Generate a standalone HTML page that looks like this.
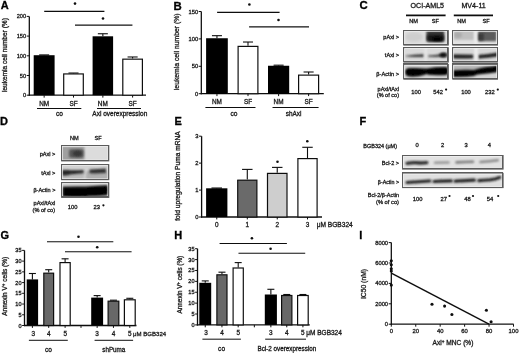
<!DOCTYPE html>
<html><head><meta charset="utf-8"><style>
html,body{margin:0;padding:0;background:#fff;}
body{width:520px;height:353px;overflow:hidden;}
svg{display:block;font-family:"Liberation Sans", sans-serif;}
</style></head><body>
<svg width="520" height="353" viewBox="0 0 520 353">
<defs><filter id="b0_8" filterUnits="userSpaceOnUse" x="0" y="0" width="520" height="353"><feGaussianBlur stdDeviation="0.6"/></filter><filter id="b1" filterUnits="userSpaceOnUse" x="0" y="0" width="520" height="353"><feGaussianBlur stdDeviation="0.8"/></filter><filter id="b1_2" filterUnits="userSpaceOnUse" x="0" y="0" width="520" height="353"><feGaussianBlur stdDeviation="1.0"/></filter><filter id="b1_5" filterUnits="userSpaceOnUse" x="0" y="0" width="520" height="353"><feGaussianBlur stdDeviation="1.3"/></filter><filter id="b2" filterUnits="userSpaceOnUse" x="0" y="0" width="520" height="353"><feGaussianBlur stdDeviation="1.8"/></filter><filter id="soft" x="0" y="0" width="100%" height="100%"><feGaussianBlur stdDeviation="0.3"/></filter></defs>
<rect width="520" height="353" fill="#fff"/>
<g filter="url(#soft)">
<text x="0.70" y="8.90" font-size="11" text-anchor="start" font-weight="bold" fill="#000" stroke="#000" stroke-width="0.3">A</text>
<line x1="29.30" y1="16.40" x2="29.30" y2="95.80" stroke="#111" stroke-width="1.3"/>
<line x1="26.70" y1="95.20" x2="29.30" y2="95.20" stroke="#111" stroke-width="1.0"/>
<text x="26.10" y="97.20" font-size="5.6" text-anchor="end" fill="#1a1a1a" stroke="#1a1a1a" stroke-width="0.3">0</text>
<line x1="26.70" y1="75.50" x2="29.30" y2="75.50" stroke="#111" stroke-width="1.0"/>
<text x="26.10" y="77.50" font-size="5.6" text-anchor="end" fill="#1a1a1a" stroke="#1a1a1a" stroke-width="0.3">50</text>
<line x1="26.70" y1="55.80" x2="29.30" y2="55.80" stroke="#111" stroke-width="1.0"/>
<text x="26.10" y="57.80" font-size="5.6" text-anchor="end" fill="#1a1a1a" stroke="#1a1a1a" stroke-width="0.3">100</text>
<line x1="26.70" y1="36.10" x2="29.30" y2="36.10" stroke="#111" stroke-width="1.0"/>
<text x="26.10" y="38.10" font-size="5.6" text-anchor="end" fill="#1a1a1a" stroke="#1a1a1a" stroke-width="0.3">150</text>
<line x1="26.70" y1="16.40" x2="29.30" y2="16.40" stroke="#111" stroke-width="1.0"/>
<text x="26.10" y="18.40" font-size="5.6" text-anchor="end" fill="#1a1a1a" stroke="#1a1a1a" stroke-width="0.3">200</text>
<line x1="28.70" y1="95.20" x2="146.00" y2="95.20" stroke="#111" stroke-width="1.3"/>
<line x1="44.15" y1="55.21" x2="44.15" y2="54.89" stroke="#111" stroke-width="1.1"/>
<line x1="39.15" y1="54.89" x2="49.15" y2="54.89" stroke="#111" stroke-width="1.1"/>
<rect x="33.70" y="55.21" width="20.90" height="39.99" fill="#000"/>
<line x1="44.15" y1="95.20" x2="44.15" y2="97.60" stroke="#111" stroke-width="1.0"/>
<line x1="73.50" y1="73.33" x2="73.50" y2="73.02" stroke="#111" stroke-width="1.1"/>
<line x1="68.50" y1="73.02" x2="78.50" y2="73.02" stroke="#111" stroke-width="1.1"/>
<rect x="63.70" y="73.93" width="19.60" height="21.27" fill="white" stroke="#111" stroke-width="1.2"/>
<line x1="73.50" y1="95.20" x2="73.50" y2="97.60" stroke="#111" stroke-width="1.0"/>
<line x1="102.85" y1="36.30" x2="102.85" y2="33.74" stroke="#111" stroke-width="1.1"/>
<line x1="97.85" y1="33.74" x2="107.85" y2="33.74" stroke="#111" stroke-width="1.1"/>
<rect x="92.60" y="36.30" width="20.50" height="58.90" fill="#000"/>
<line x1="102.85" y1="95.20" x2="102.85" y2="97.60" stroke="#111" stroke-width="1.0"/>
<line x1="132.60" y1="58.56" x2="132.60" y2="56.98" stroke="#111" stroke-width="1.1"/>
<line x1="127.60" y1="56.98" x2="137.60" y2="56.98" stroke="#111" stroke-width="1.1"/>
<rect x="122.80" y="59.16" width="19.60" height="36.04" fill="white" stroke="#111" stroke-width="1.2"/>
<line x1="132.60" y1="95.20" x2="132.60" y2="97.60" stroke="#111" stroke-width="1.0"/>
<text x="44.15" y="105.70" font-size="6.4" text-anchor="middle" fill="#1a1a1a" stroke="#1a1a1a" stroke-width="0.3">NM</text>
<text x="73.50" y="105.70" font-size="6.4" text-anchor="middle" fill="#1a1a1a" stroke="#1a1a1a" stroke-width="0.3">SF</text>
<text x="102.85" y="105.70" font-size="6.4" text-anchor="middle" fill="#1a1a1a" stroke="#1a1a1a" stroke-width="0.3">NM</text>
<text x="132.60" y="105.70" font-size="6.4" text-anchor="middle" fill="#1a1a1a" stroke="#1a1a1a" stroke-width="0.3">SF</text>
<line x1="44.20" y1="11.30" x2="104.40" y2="11.30" stroke="#111" stroke-width="1.2"/>
<circle cx="75.00" cy="3.60" r="1.3" fill="#111"/>
<line x1="75.00" y1="25.10" x2="132.40" y2="25.10" stroke="#111" stroke-width="1.2"/>
<circle cx="103.00" cy="18.50" r="1.3" fill="#111"/>
<line x1="37.00" y1="108.50" x2="81.30" y2="108.50" stroke="#111" stroke-width="1.0"/>
<line x1="97.00" y1="108.50" x2="141.00" y2="108.50" stroke="#111" stroke-width="1.0"/>
<text x="59.50" y="116.10" font-size="6.6" text-anchor="middle" fill="#1a1a1a" stroke="#1a1a1a" stroke-width="0.3">co</text>
<text x="119.80" y="116.40" font-size="6.5" text-anchor="middle" fill="#1a1a1a" stroke="#1a1a1a" stroke-width="0.3">Axl overexpression</text>
<text x="7.30" y="55.10" font-size="6.55" text-anchor="middle" transform="rotate(-90 7.30 55.10)" fill="#1a1a1a" stroke="#1a1a1a" stroke-width="0.3">leukemia cell number (%)</text>
<text x="173.60" y="9.60" font-size="11.4" text-anchor="start" font-weight="bold" fill="#000" stroke="#000" stroke-width="0.3">B</text>
<line x1="201.30" y1="11.50" x2="201.30" y2="94.30" stroke="#111" stroke-width="1.3"/>
<line x1="198.70" y1="93.70" x2="201.30" y2="93.70" stroke="#111" stroke-width="1.0"/>
<text x="198.10" y="95.70" font-size="5.75" text-anchor="end" fill="#1a1a1a" stroke="#1a1a1a" stroke-width="0.3">0</text>
<line x1="198.70" y1="66.30" x2="201.30" y2="66.30" stroke="#111" stroke-width="1.0"/>
<text x="198.10" y="68.30" font-size="5.75" text-anchor="end" fill="#1a1a1a" stroke="#1a1a1a" stroke-width="0.3">50</text>
<line x1="198.70" y1="38.90" x2="201.30" y2="38.90" stroke="#111" stroke-width="1.0"/>
<text x="198.10" y="40.90" font-size="5.75" text-anchor="end" fill="#1a1a1a" stroke="#1a1a1a" stroke-width="0.3">100</text>
<line x1="198.70" y1="11.50" x2="201.30" y2="11.50" stroke="#111" stroke-width="1.0"/>
<text x="198.10" y="13.50" font-size="5.75" text-anchor="end" fill="#1a1a1a" stroke="#1a1a1a" stroke-width="0.3">150</text>
<line x1="200.70" y1="93.70" x2="323.80" y2="93.70" stroke="#111" stroke-width="1.3"/>
<line x1="216.95" y1="38.24" x2="216.95" y2="35.67" stroke="#111" stroke-width="1.1"/>
<line x1="211.95" y1="35.67" x2="221.95" y2="35.67" stroke="#111" stroke-width="1.1"/>
<rect x="206.10" y="38.24" width="21.70" height="55.46" fill="#000"/>
<line x1="216.95" y1="93.70" x2="216.95" y2="96.10" stroke="#111" stroke-width="1.0"/>
<line x1="248.00" y1="45.80" x2="248.00" y2="42.02" stroke="#111" stroke-width="1.1"/>
<line x1="243.00" y1="42.02" x2="253.00" y2="42.02" stroke="#111" stroke-width="1.1"/>
<rect x="238.10" y="46.40" width="19.80" height="47.30" fill="white" stroke="#111" stroke-width="1.2"/>
<line x1="248.00" y1="93.70" x2="248.00" y2="96.10" stroke="#111" stroke-width="1.0"/>
<line x1="278.60" y1="65.75" x2="278.60" y2="65.20" stroke="#111" stroke-width="1.1"/>
<line x1="273.60" y1="65.20" x2="283.60" y2="65.20" stroke="#111" stroke-width="1.1"/>
<rect x="268.00" y="65.75" width="21.20" height="27.95" fill="#000"/>
<line x1="278.60" y1="93.70" x2="278.60" y2="96.10" stroke="#111" stroke-width="1.0"/>
<line x1="308.60" y1="74.52" x2="308.60" y2="72.00" stroke="#111" stroke-width="1.1"/>
<line x1="303.60" y1="72.00" x2="313.60" y2="72.00" stroke="#111" stroke-width="1.1"/>
<rect x="298.60" y="75.12" width="20.00" height="18.58" fill="white" stroke="#111" stroke-width="1.2"/>
<line x1="308.60" y1="93.70" x2="308.60" y2="96.10" stroke="#111" stroke-width="1.0"/>
<text x="216.95" y="104.40" font-size="6.4" text-anchor="middle" fill="#1a1a1a" stroke="#1a1a1a" stroke-width="0.3">NM</text>
<text x="248.00" y="104.40" font-size="6.4" text-anchor="middle" fill="#1a1a1a" stroke="#1a1a1a" stroke-width="0.3">SF</text>
<text x="278.60" y="104.40" font-size="6.4" text-anchor="middle" fill="#1a1a1a" stroke="#1a1a1a" stroke-width="0.3">NM</text>
<text x="308.60" y="104.40" font-size="6.4" text-anchor="middle" fill="#1a1a1a" stroke="#1a1a1a" stroke-width="0.3">SF</text>
<line x1="217.10" y1="12.35" x2="279.60" y2="12.35" stroke="#111" stroke-width="1.2"/>
<circle cx="249.40" cy="4.50" r="1.3" fill="#111"/>
<line x1="249.10" y1="26.85" x2="309.00" y2="26.85" stroke="#111" stroke-width="1.2"/>
<circle cx="278.50" cy="20.00" r="1.3" fill="#111"/>
<line x1="205.40" y1="107.50" x2="255.50" y2="107.50" stroke="#111" stroke-width="1.0"/>
<line x1="272.50" y1="107.50" x2="318.60" y2="107.50" stroke="#111" stroke-width="1.0"/>
<text x="233.90" y="115.80" font-size="6.6" text-anchor="middle" fill="#1a1a1a" stroke="#1a1a1a" stroke-width="0.3">co</text>
<text x="293.60" y="115.80" font-size="6.4" text-anchor="middle" fill="#1a1a1a" stroke="#1a1a1a" stroke-width="0.3">shAxl</text>
<text x="178.60" y="51.80" font-size="6.8" text-anchor="middle" transform="rotate(-90 178.60 51.80)" fill="#1a1a1a" stroke="#1a1a1a" stroke-width="0.3">leukemia cell number (%)</text>
<text x="359.60" y="9.40" font-size="11.4" text-anchor="start" font-weight="bold" fill="#000" stroke="#000" stroke-width="0.3">C</text>
<text x="427.30" y="7.60" font-size="7.1" text-anchor="middle" fill="#1a1a1a" stroke="#1a1a1a" stroke-width="0.3">OCI-AML5</text>
<text x="473.60" y="7.60" font-size="7.1" text-anchor="middle" fill="#1a1a1a" stroke="#1a1a1a" stroke-width="0.3">MV4-11</text>
<line x1="406.00" y1="15.40" x2="445.60" y2="15.40" stroke="#111" stroke-width="1.6"/>
<line x1="453.80" y1="15.40" x2="493.00" y2="15.40" stroke="#111" stroke-width="1.6"/>
<text x="413.50" y="23.00" font-size="5.6" text-anchor="middle" fill="#1a1a1a" stroke="#1a1a1a" stroke-width="0.3">NM</text>
<text x="435.40" y="23.00" font-size="5.6" text-anchor="middle" fill="#1a1a1a" stroke="#1a1a1a" stroke-width="0.3">SF</text>
<text x="461.50" y="23.00" font-size="5.6" text-anchor="middle" fill="#1a1a1a" stroke="#1a1a1a" stroke-width="0.3">NM</text>
<text x="486.00" y="23.00" font-size="5.6" text-anchor="middle" fill="#1a1a1a" stroke="#1a1a1a" stroke-width="0.3">SF</text>
<rect x="403.80" y="30.50" width="44.50" height="14.60" fill="#dcdcdc" stroke="#555" stroke-width="1.0"/>
<clipPath id="c1"><rect x="404.30" y="31.00" width="43.50" height="13.60"/></clipPath>
<g clip-path="url(#c1)">
<rect x="403.00" y="30.00" width="50.00" height="16.00" fill="#dedede" opacity="1.0" filter="url(#b1)"/>
<ellipse cx="414.00" cy="37.00" rx="9.00" ry="5.00" fill="#cecece" opacity="1.0" filter="url(#b2)"/>
<rect x="426.40" y="30.20" width="17.80" height="11.40" rx="1" fill="#3c3c3c" opacity="1.0" filter="url(#b1)"/>
<rect x="427.20" y="34.50" width="16.60" height="7.00" rx="1.5" fill="#141414" opacity="1.0" filter="url(#b1)"/>
<ellipse cx="437.00" cy="39.00" rx="5.00" ry="2.00" fill="#050505" opacity="1.0" filter="url(#b1)"/>
</g>
<rect x="404.70" y="31.40" width="42.70" height="12.80" fill="none" stroke="#f2f2f2" stroke-width="0.8" opacity="0.8"/>
<rect x="403.50" y="30.50" width="44.00" height="14.00" fill="none" stroke="#5c5c5c" stroke-width="1"/>
<rect x="452.80" y="30.50" width="44.70" height="14.60" fill="#dcdcdc" stroke="#555" stroke-width="1.0"/>
<clipPath id="c2"><rect x="453.30" y="31.00" width="43.70" height="13.60"/></clipPath>
<g clip-path="url(#c2)">
<rect x="452.00" y="30.00" width="50.00" height="16.00" fill="#e2e2e2" opacity="1.0" filter="url(#b1)"/>
<rect x="453.00" y="30.50" width="21.00" height="9.50" rx="1" fill="#c0c0c0" opacity="1.0" filter="url(#b1_5)"/>
<ellipse cx="458.00" cy="35.00" rx="4.00" ry="3.00" fill="#ababab" opacity="1.0" filter="url(#b1_5)"/>
<rect x="477.60" y="31.00" width="19.00" height="10.30" rx="1" fill="#5c5c5c" opacity="1.0" filter="url(#b1)"/>
<rect x="477.80" y="33.50" width="6.00" height="7.00" rx="1" fill="#3a3a3a" opacity="1.0" filter="url(#b1)"/>
<rect x="474.50" y="30.00" width="2.80" height="16.00" fill="#eeeeee" opacity="1.0" filter="url(#b1)"/>
</g>
<rect x="453.70" y="31.40" width="42.90" height="12.80" fill="none" stroke="#f2f2f2" stroke-width="0.8" opacity="0.8"/>
<rect x="452.50" y="30.50" width="45.00" height="14.00" fill="none" stroke="#5c5c5c" stroke-width="1"/>
<rect x="403.80" y="47.70" width="44.50" height="14.40" fill="#dcdcdc" stroke="#555" stroke-width="1.0"/>
<clipPath id="c3"><rect x="404.30" y="48.20" width="43.50" height="13.40"/></clipPath>
<g clip-path="url(#c3)">
<rect x="403.00" y="47.00" width="50.00" height="16.00" fill="#dadada" opacity="1.0" filter="url(#b1)"/>
<path d="M405.5 55.8 Q414 54.6 423.8 54.3 L423.8 57.1 Q414 57.1 405.5 56.6 Z" fill="#333" opacity="1.0" filter="url(#b1)"/>
<path d="M427.8 55.6 Q436 55 441 54 Q445 52.8 447 53 L447 57 Q444 57.2 441 56.8 Q436 57 427.8 56.8 Z" fill="#3a3a3a" opacity="1.0" filter="url(#b1)"/>
<ellipse cx="443.00" cy="55.00" rx="3.30" ry="2.20" fill="#111" opacity="1.0" filter="url(#b1)"/>
<rect x="424.00" y="47.00" width="3.50" height="16.00" fill="#e8e8e8" opacity="0.7" filter="url(#b1_5)"/>
</g>
<rect x="404.70" y="48.60" width="42.70" height="12.60" fill="none" stroke="#f2f2f2" stroke-width="0.8" opacity="0.8"/>
<rect x="403.50" y="47.50" width="44.00" height="14.00" fill="none" stroke="#5c5c5c" stroke-width="1"/>
<rect x="452.80" y="47.70" width="44.70" height="14.40" fill="#dcdcdc" stroke="#555" stroke-width="1.0"/>
<clipPath id="c4"><rect x="453.30" y="48.20" width="43.70" height="13.40"/></clipPath>
<g clip-path="url(#c4)">
<rect x="452.00" y="47.00" width="50.00" height="16.00" fill="#d8d8d8" opacity="1.0" filter="url(#b1)"/>
<path d="M452 54.6 Q462 54.4 473.5 54.8 L473.5 58.2 Q462 58.6 452 58.2 Z" fill="#1a1a1a" opacity="1.0" filter="url(#b1)"/>
<path d="M478.2 55 Q488 54.6 498 52.6 L498 56.6 Q488 58.2 478.2 58.4 Z" fill="#1e1e1e" opacity="1.0" filter="url(#b1)"/>
<rect x="474.30" y="47.00" width="3.50" height="16.00" fill="#eeeeee" opacity="1.0" filter="url(#b1)"/>
</g>
<rect x="453.70" y="48.60" width="42.90" height="12.60" fill="none" stroke="#f2f2f2" stroke-width="0.8" opacity="0.8"/>
<rect x="452.50" y="47.50" width="45.00" height="14.00" fill="none" stroke="#5c5c5c" stroke-width="1"/>
<rect x="403.80" y="64.40" width="44.50" height="14.80" fill="#dcdcdc" stroke="#555" stroke-width="1.0"/>
<clipPath id="c5"><rect x="404.30" y="64.90" width="43.50" height="13.80"/></clipPath>
<g clip-path="url(#c5)">
<rect x="403.00" y="64.00" width="50.00" height="16.00" fill="#d2d2d2" opacity="1.0" filter="url(#b1)"/>
<path d="M405 72 Q405 68 410 68 Q420 67.8 426.5 68.4 Q437 66.8 446 67 Q448.5 67.5 448.5 71 Q448.5 74.5 446 75 Q435 75.5 428 74.8 Q426.5 73.4 425 74.8 Q418 77 410 76.6 Q405 76.3 405 72 Z" fill="#030303" opacity="1.0" filter="url(#b1)"/>
</g>
<rect x="404.70" y="65.30" width="42.70" height="13.00" fill="none" stroke="#f2f2f2" stroke-width="0.8" opacity="0.8"/>
<rect x="403.50" y="63.50" width="44.00" height="15.00" fill="none" stroke="#5c5c5c" stroke-width="1"/>
<rect x="452.80" y="64.40" width="44.70" height="14.80" fill="#dcdcdc" stroke="#555" stroke-width="1.0"/>
<clipPath id="c6"><rect x="453.30" y="64.90" width="43.70" height="13.80"/></clipPath>
<g clip-path="url(#c6)">
<rect x="452.00" y="64.00" width="50.00" height="16.00" fill="#d4d4d4" opacity="1.0" filter="url(#b1)"/>
<rect x="453.00" y="65.50" width="45.00" height="5.00" rx="1" fill="#b4b4b4" opacity="1.0" filter="url(#b1_5)"/>
<path d="M453 70.2 Q465 69.4 474 70 Q480 67.8 490 66.8 Q496 66 498 65.5 L498 72 Q490 73.3 480 74.2 Q476 74.5 474 76 Q466 77.4 453 77 Z" fill="#030303" opacity="1.0" filter="url(#b1)"/>
</g>
<rect x="453.70" y="65.30" width="42.90" height="13.00" fill="none" stroke="#f2f2f2" stroke-width="0.8" opacity="0.8"/>
<rect x="452.50" y="63.50" width="45.00" height="15.00" fill="none" stroke="#5c5c5c" stroke-width="1"/>
<text x="399.00" y="38.60" font-size="5.6" text-anchor="end" fill="#1a1a1a" stroke="#1a1a1a" stroke-width="0.3">pAxl &gt;</text>
<text x="399.00" y="56.80" font-size="5.6" text-anchor="end" fill="#1a1a1a" stroke="#1a1a1a" stroke-width="0.3">tAxl &gt;</text>
<text x="399.00" y="76.00" font-size="5.7" text-anchor="end" fill="#1a1a1a" stroke="#1a1a1a" stroke-width="0.3">β-Actin &gt;</text>
<text x="399.00" y="90.80" font-size="5.5" text-anchor="end" fill="#1a1a1a" stroke="#1a1a1a" stroke-width="0.3">pAxl/tAxl</text>
<text x="399.00" y="96.50" font-size="5.55" text-anchor="end" fill="#1a1a1a" stroke="#1a1a1a" stroke-width="0.3">(% of co)</text>
<text x="416.20" y="94.00" font-size="5.8" text-anchor="middle" fill="#1a1a1a" stroke="#1a1a1a" stroke-width="0.3">100</text>
<text x="438.20" y="94.00" font-size="5.8" text-anchor="middle" fill="#1a1a1a" stroke="#1a1a1a" stroke-width="0.3">542</text>
<circle cx="446.10" cy="89.60" r="1.1" fill="#111"/>
<text x="466.00" y="94.00" font-size="5.8" text-anchor="middle" fill="#1a1a1a" stroke="#1a1a1a" stroke-width="0.3">100</text>
<text x="489.80" y="94.00" font-size="5.8" text-anchor="middle" fill="#1a1a1a" stroke="#1a1a1a" stroke-width="0.3">232</text>
<circle cx="497.80" cy="89.60" r="1.1" fill="#111"/>
<text x="0.00" y="124.80" font-size="11" text-anchor="start" font-weight="bold" fill="#000" stroke="#000" stroke-width="0.3">D</text>
<text x="74.30" y="140.00" font-size="5.6" text-anchor="middle" fill="#1a1a1a" stroke="#1a1a1a" stroke-width="0.3">NM</text>
<text x="98.00" y="140.00" font-size="5.6" text-anchor="middle" fill="#1a1a1a" stroke="#1a1a1a" stroke-width="0.3">SF</text>
<rect x="61.60" y="145.50" width="47.20" height="15.40" fill="#dcdcdc" stroke="#555" stroke-width="1.0"/>
<clipPath id="c7"><rect x="62.10" y="146.00" width="46.20" height="14.40"/></clipPath>
<g clip-path="url(#c7)">
<rect x="61.00" y="145.00" width="50.00" height="17.00" fill="#dcdcdc" opacity="1.0" filter="url(#b1)"/>
<rect x="61.50" y="146.20" width="23.00" height="14.50" rx="1" fill="#a0a0a0" opacity="1.0" filter="url(#b1_2)"/>
<rect x="69.00" y="149.30" width="14.60" height="8.40" rx="2" fill="#575757" opacity="1.0" filter="url(#b1_2)"/>
<ellipse cx="77.50" cy="153.50" rx="4.50" ry="3.00" fill="#383838" opacity="1.0" filter="url(#b1_2)"/>
</g>
<rect x="62.50" y="146.40" width="45.40" height="13.60" fill="none" stroke="#f2f2f2" stroke-width="0.8" opacity="0.8"/>
<rect x="61.50" y="145.50" width="47.00" height="15.00" fill="none" stroke="#5c5c5c" stroke-width="1"/>
<rect x="61.60" y="164.70" width="47.20" height="15.00" fill="#dcdcdc" stroke="#555" stroke-width="1.0"/>
<clipPath id="c8"><rect x="62.10" y="165.20" width="46.20" height="14.00"/></clipPath>
<g clip-path="url(#c8)">
<rect x="61.00" y="164.00" width="50.00" height="17.00" fill="#d2d2d2" opacity="1.0" filter="url(#b1)"/>
<rect x="86.00" y="171.00" width="22.00" height="9.00" rx="2" fill="#b0b0b0" opacity="1.0" filter="url(#b1_5)"/>
<rect x="62.00" y="172.00" width="22.00" height="7.00" rx="2" fill="#bcbcbc" opacity="1.0" filter="url(#b1_5)"/>
<path d="M62 170.3 Q66 169.3 70 170.3 Q77 170.5 83.6 170.1 L83.6 173.3 Q77 173.5 70 174.6 Q66 176.2 62 175.2 Z" fill="#262626" opacity="1.0" filter="url(#b1)"/>
<path d="M89.5 169.6 Q97 169.3 106 168.6 L106 173 Q97 173.6 89.5 173.3 Z" fill="#303030" opacity="1.0" filter="url(#b1)"/>
</g>
<rect x="62.50" y="165.60" width="45.40" height="13.20" fill="none" stroke="#f2f2f2" stroke-width="0.8" opacity="0.8"/>
<rect x="61.50" y="164.50" width="47.00" height="15.00" fill="none" stroke="#5c5c5c" stroke-width="1"/>
<rect x="61.60" y="182.80" width="47.20" height="14.60" fill="#dcdcdc" stroke="#555" stroke-width="1.0"/>
<clipPath id="c9"><rect x="62.10" y="183.30" width="46.20" height="13.60"/></clipPath>
<g clip-path="url(#c9)">
<rect x="61.00" y="182.00" width="50.00" height="17.00" fill="#cfcfcf" opacity="1.0" filter="url(#b1)"/>
<path d="M62.5 186.8 Q75 186.3 86 186.6 Q98 185.5 107.5 185.2 Q109 190 107.5 195.2 Q97 196 88 196.3 Q86 197.5 84 196.8 Q72 197.2 62.5 196.5 Z" fill="#050505" opacity="1.0" filter="url(#b1)"/>
</g>
<rect x="62.50" y="183.70" width="45.40" height="12.80" fill="none" stroke="#f2f2f2" stroke-width="0.8" opacity="0.8"/>
<rect x="61.50" y="182.50" width="47.00" height="14.00" fill="none" stroke="#5c5c5c" stroke-width="1"/>
<text x="55.40" y="155.80" font-size="5.6" text-anchor="end" fill="#1a1a1a" stroke="#1a1a1a" stroke-width="0.3">pAxl &gt;</text>
<text x="55.40" y="174.70" font-size="5.6" text-anchor="end" fill="#1a1a1a" stroke="#1a1a1a" stroke-width="0.3">tAxl &gt;</text>
<text x="55.40" y="191.90" font-size="5.5" text-anchor="end" fill="#1a1a1a" stroke="#1a1a1a" stroke-width="0.3">β-Actin &gt;</text>
<text x="55.30" y="205.40" font-size="5.6" text-anchor="end" fill="#1a1a1a" stroke="#1a1a1a" stroke-width="0.3">pAxl/tAxl</text>
<text x="55.00" y="211.60" font-size="5.6" text-anchor="end" fill="#1a1a1a" stroke="#1a1a1a" stroke-width="0.3">(% of co)</text>
<text x="72.70" y="209.30" font-size="5.8" text-anchor="middle" fill="#1a1a1a" stroke="#1a1a1a" stroke-width="0.3">100</text>
<text x="96.80" y="209.30" font-size="5.8" text-anchor="middle" fill="#1a1a1a" stroke="#1a1a1a" stroke-width="0.3">23</text>
<circle cx="103.40" cy="205.30" r="1.1" fill="#111"/>
<text x="174.40" y="124.70" font-size="11" text-anchor="start" font-weight="bold" fill="#000" stroke="#000" stroke-width="0.3">E</text>
<line x1="201.60" y1="136.21" x2="201.60" y2="217.60" stroke="#111" stroke-width="1.3"/>
<line x1="199.00" y1="217.00" x2="201.60" y2="217.00" stroke="#111" stroke-width="1.0"/>
<text x="198.40" y="219.00" font-size="5.8" text-anchor="end" fill="#1a1a1a" stroke="#1a1a1a" stroke-width="0.3">0</text>
<line x1="199.00" y1="190.07" x2="201.60" y2="190.07" stroke="#111" stroke-width="1.0"/>
<text x="198.40" y="192.07" font-size="5.8" text-anchor="end" fill="#1a1a1a" stroke="#1a1a1a" stroke-width="0.3">1</text>
<line x1="199.00" y1="163.14" x2="201.60" y2="163.14" stroke="#111" stroke-width="1.0"/>
<text x="198.40" y="165.14" font-size="5.8" text-anchor="end" fill="#1a1a1a" stroke="#1a1a1a" stroke-width="0.3">2</text>
<line x1="199.00" y1="136.21" x2="201.60" y2="136.21" stroke="#111" stroke-width="1.0"/>
<text x="198.40" y="138.21" font-size="5.8" text-anchor="end" fill="#1a1a1a" stroke="#1a1a1a" stroke-width="0.3">3</text>
<line x1="201.00" y1="217.00" x2="322.00" y2="217.00" stroke="#111" stroke-width="1.3"/>
<line x1="216.75" y1="188.30" x2="216.75" y2="188.00" stroke="#111" stroke-width="1.1"/>
<line x1="211.50" y1="188.00" x2="222.00" y2="188.00" stroke="#111" stroke-width="1.1"/>
<rect x="206.10" y="188.30" width="21.30" height="28.70" fill="#000"/>
<line x1="216.75" y1="217.00" x2="216.75" y2="219.40" stroke="#111" stroke-width="1.0"/>
<line x1="247.30" y1="179.60" x2="247.30" y2="169.40" stroke="#111" stroke-width="1.1"/>
<line x1="242.05" y1="169.40" x2="252.55" y2="169.40" stroke="#111" stroke-width="1.1"/>
<rect x="237.70" y="180.20" width="19.20" height="36.80" fill="#6a6a6a" stroke="#111" stroke-width="1.2"/>
<line x1="247.30" y1="217.00" x2="247.30" y2="219.40" stroke="#111" stroke-width="1.0"/>
<line x1="277.25" y1="172.80" x2="277.25" y2="167.40" stroke="#111" stroke-width="1.1"/>
<line x1="272.00" y1="167.40" x2="282.50" y2="167.40" stroke="#111" stroke-width="1.1"/>
<rect x="267.50" y="173.40" width="19.50" height="43.60" fill="#cecece" stroke="#111" stroke-width="1.2"/>
<line x1="277.25" y1="217.00" x2="277.25" y2="219.40" stroke="#111" stroke-width="1.0"/>
<line x1="307.50" y1="158.00" x2="307.50" y2="147.30" stroke="#111" stroke-width="1.1"/>
<line x1="302.25" y1="147.30" x2="312.75" y2="147.30" stroke="#111" stroke-width="1.1"/>
<rect x="297.90" y="158.60" width="19.20" height="58.40" fill="white" stroke="#111" stroke-width="1.2"/>
<line x1="307.50" y1="217.00" x2="307.50" y2="219.40" stroke="#111" stroke-width="1.0"/>
<text x="216.75" y="227.10" font-size="6.4" text-anchor="middle" fill="#1a1a1a" stroke="#1a1a1a" stroke-width="0.3">0</text>
<text x="247.30" y="227.10" font-size="6.4" text-anchor="middle" fill="#1a1a1a" stroke="#1a1a1a" stroke-width="0.3">1</text>
<text x="277.25" y="227.10" font-size="6.4" text-anchor="middle" fill="#1a1a1a" stroke="#1a1a1a" stroke-width="0.3">2</text>
<text x="307.50" y="227.10" font-size="6.4" text-anchor="middle" fill="#1a1a1a" stroke="#1a1a1a" stroke-width="0.3">3</text>
<text x="316.70" y="227.10" font-size="6.6" text-anchor="start" fill="#1a1a1a" stroke="#1a1a1a" stroke-width="0.3">μM BGB324</text>
<circle cx="277.50" cy="161.70" r="1.3" fill="#111"/>
<circle cx="307.30" cy="141.30" r="1.3" fill="#111"/>
<text x="180.00" y="176.00" font-size="6.64" text-anchor="middle" transform="rotate(-90 180.00 176.00)" fill="#1a1a1a" stroke="#1a1a1a" stroke-width="0.3">fold upregulation Puma mRNA</text>
<text x="359.60" y="124.80" font-size="11" text-anchor="start" font-weight="bold" fill="#000" stroke="#000" stroke-width="0.3">F</text>
<text x="397.00" y="147.80" font-size="5.5" text-anchor="end" fill="#1a1a1a" stroke="#1a1a1a" stroke-width="0.3">BGB324 (μM)</text>
<text x="417.00" y="147.20" font-size="5.8" text-anchor="middle" fill="#1a1a1a" stroke="#1a1a1a" stroke-width="0.3">0</text>
<text x="442.50" y="147.20" font-size="5.8" text-anchor="middle" fill="#1a1a1a" stroke="#1a1a1a" stroke-width="0.3">2</text>
<text x="466.20" y="147.20" font-size="5.8" text-anchor="middle" fill="#1a1a1a" stroke="#1a1a1a" stroke-width="0.3">3</text>
<text x="489.30" y="147.20" font-size="5.8" text-anchor="middle" fill="#1a1a1a" stroke="#1a1a1a" stroke-width="0.3">4</text>
<rect x="402.50" y="155.50" width="100.60" height="13.60" fill="#dcdcdc" stroke="#555" stroke-width="1.0"/>
<clipPath id="c10"><rect x="403.00" y="156.00" width="99.60" height="12.60"/></clipPath>
<g clip-path="url(#c10)">
<rect x="402.00" y="155.00" width="102.00" height="15.00" fill="#e2e2e2" opacity="1.0" filter="url(#b1)"/>
<path d="M407 163.3 Q414 162.3 420 163 Q424 162.9 426.8 162.7" fill="none" stroke="#262626" stroke-width="3.3" stroke-linecap="round" opacity="1.0" filter="url(#b1)"/>
<path d="M435 162.8 Q442 162.3 448.5 162.4" fill="none" stroke="#959595" stroke-width="2.5" stroke-linecap="round" opacity="1.0" filter="url(#b1)"/>
<path d="M456.5 162.4 Q465 161.9 473 161.7" fill="none" stroke="#7c7c7c" stroke-width="2.6" stroke-linecap="round" opacity="1.0" filter="url(#b1)"/>
<path d="M480.5 162.1 Q490 161.5 497.8 160.3" fill="none" stroke="#888888" stroke-width="2.5" stroke-linecap="round" opacity="1.0" filter="url(#b1)"/>
</g>
<rect x="403.40" y="156.40" width="98.80" height="11.80" fill="none" stroke="#f2f2f2" stroke-width="0.8" opacity="0.8"/>
<rect x="402.50" y="155.50" width="100.00" height="13.00" fill="none" stroke="#5c5c5c" stroke-width="1"/>
<rect x="402.50" y="173.30" width="100.60" height="14.30" fill="#dcdcdc" stroke="#555" stroke-width="1.0"/>
<clipPath id="c11"><rect x="403.00" y="173.80" width="99.60" height="13.30"/></clipPath>
<g clip-path="url(#c11)">
<rect x="402.00" y="172.00" width="102.00" height="17.00" fill="#e0e0e0" opacity="1.0" filter="url(#b1)"/>
<path d="M407 182.6 Q418 181.9 429.8 181.1" fill="none" stroke="#1e1e1e" stroke-width="3.0" stroke-linecap="round" opacity="1.0" filter="url(#b1)"/>
<path d="M434 181.5 Q442 181 451.2 180.9" fill="none" stroke="#1e1e1e" stroke-width="3.2" stroke-linecap="round" opacity="1.0" filter="url(#b1)"/>
<path d="M455.2 181.1 Q465 180.6 474.4 180.2" fill="none" stroke="#1e1e1e" stroke-width="3.2" stroke-linecap="round" opacity="1.0" filter="url(#b1)"/>
<path d="M478.8 180.6 Q490 180 495 179 Q498 178.2 499.8 177.4" fill="none" stroke="#1e1e1e" stroke-width="3.2" stroke-linecap="round" opacity="1.0" filter="url(#b1)"/>
</g>
<rect x="403.40" y="174.20" width="98.80" height="12.50" fill="none" stroke="#f2f2f2" stroke-width="0.8" opacity="0.8"/>
<rect x="402.50" y="172.50" width="100.00" height="15.00" fill="none" stroke="#5c5c5c" stroke-width="1"/>
<text x="399.00" y="165.00" font-size="5.5" text-anchor="end" fill="#1a1a1a" stroke="#1a1a1a" stroke-width="0.3">Bcl-2 &gt;</text>
<text x="399.00" y="183.90" font-size="5.3" text-anchor="end" fill="#1a1a1a" stroke="#1a1a1a" stroke-width="0.3">β-Actin &gt;</text>
<text x="399.00" y="197.40" font-size="5.5" text-anchor="end" fill="#1a1a1a" stroke="#1a1a1a" stroke-width="0.3">Bcl-2/β-Actin</text>
<text x="399.00" y="203.70" font-size="5.75" text-anchor="end" fill="#1a1a1a" stroke="#1a1a1a" stroke-width="0.3">(% of co)</text>
<text x="417.60" y="200.50" font-size="5.8" text-anchor="middle" fill="#1a1a1a" stroke="#1a1a1a" stroke-width="0.3">100</text>
<text x="443.75" y="200.80" font-size="5.8" text-anchor="middle" fill="#1a1a1a" stroke="#1a1a1a" stroke-width="0.3">27</text>
<circle cx="449.50" cy="196.00" r="1.1" fill="#111"/>
<text x="467.50" y="200.80" font-size="5.8" text-anchor="middle" fill="#1a1a1a" stroke="#1a1a1a" stroke-width="0.3">48</text>
<circle cx="473.00" cy="196.00" r="1.1" fill="#111"/>
<text x="489.90" y="200.60" font-size="5.8" text-anchor="middle" fill="#1a1a1a" stroke="#1a1a1a" stroke-width="0.3">54</text>
<circle cx="498.20" cy="196.00" r="1.1" fill="#111"/>
<text x="0.60" y="238.90" font-size="11" text-anchor="start" font-weight="bold" fill="#000" stroke="#000" stroke-width="0.3">G</text>
<line x1="24.50" y1="250.39" x2="24.50" y2="326.10" stroke="#111" stroke-width="1.3"/>
<line x1="22.10" y1="325.50" x2="24.50" y2="325.50" stroke="#111" stroke-width="1.0"/>
<text x="21.50" y="327.50" font-size="5.6" text-anchor="end" fill="#1a1a1a" stroke="#1a1a1a" stroke-width="0.3">0</text>
<line x1="22.10" y1="314.77" x2="24.50" y2="314.77" stroke="#111" stroke-width="1.0"/>
<text x="21.50" y="316.77" font-size="5.6" text-anchor="end" fill="#1a1a1a" stroke="#1a1a1a" stroke-width="0.3">5</text>
<line x1="22.10" y1="304.04" x2="24.50" y2="304.04" stroke="#111" stroke-width="1.0"/>
<text x="21.50" y="306.04" font-size="5.6" text-anchor="end" fill="#1a1a1a" stroke="#1a1a1a" stroke-width="0.3">10</text>
<line x1="22.10" y1="293.31" x2="24.50" y2="293.31" stroke="#111" stroke-width="1.0"/>
<text x="21.50" y="295.31" font-size="5.6" text-anchor="end" fill="#1a1a1a" stroke="#1a1a1a" stroke-width="0.3">15</text>
<line x1="22.10" y1="282.58" x2="24.50" y2="282.58" stroke="#111" stroke-width="1.0"/>
<text x="21.50" y="284.58" font-size="5.6" text-anchor="end" fill="#1a1a1a" stroke="#1a1a1a" stroke-width="0.3">20</text>
<line x1="22.10" y1="271.85" x2="24.50" y2="271.85" stroke="#111" stroke-width="1.0"/>
<text x="21.50" y="273.85" font-size="5.6" text-anchor="end" fill="#1a1a1a" stroke="#1a1a1a" stroke-width="0.3">25</text>
<line x1="22.10" y1="261.12" x2="24.50" y2="261.12" stroke="#111" stroke-width="1.0"/>
<text x="21.50" y="263.12" font-size="5.6" text-anchor="end" fill="#1a1a1a" stroke="#1a1a1a" stroke-width="0.3">30</text>
<line x1="22.10" y1="250.39" x2="24.50" y2="250.39" stroke="#111" stroke-width="1.0"/>
<text x="21.50" y="252.39" font-size="5.6" text-anchor="end" fill="#1a1a1a" stroke="#1a1a1a" stroke-width="0.3">35</text>
<line x1="23.90" y1="325.50" x2="136.50" y2="325.50" stroke="#111" stroke-width="1.3"/>
<line x1="32.40" y1="279.40" x2="32.40" y2="273.50" stroke="#111" stroke-width="1.1"/>
<line x1="28.90" y1="273.50" x2="35.90" y2="273.50" stroke="#111" stroke-width="1.1"/>
<rect x="26.70" y="279.40" width="11.40" height="46.10" fill="#000"/>
<line x1="32.40" y1="325.50" x2="32.40" y2="327.90" stroke="#111" stroke-width="1.0"/>
<line x1="48.70" y1="272.60" x2="48.70" y2="269.70" stroke="#111" stroke-width="1.1"/>
<line x1="45.20" y1="269.70" x2="52.20" y2="269.70" stroke="#111" stroke-width="1.1"/>
<rect x="43.80" y="273.20" width="9.80" height="52.30" fill="#686868" stroke="#111" stroke-width="1.2"/>
<line x1="48.70" y1="325.50" x2="48.70" y2="327.90" stroke="#111" stroke-width="1.0"/>
<line x1="65.10" y1="262.00" x2="65.10" y2="258.80" stroke="#111" stroke-width="1.1"/>
<line x1="61.60" y1="258.80" x2="68.60" y2="258.80" stroke="#111" stroke-width="1.1"/>
<rect x="60.00" y="262.60" width="10.20" height="62.90" fill="white" stroke="#111" stroke-width="1.2"/>
<line x1="65.10" y1="325.50" x2="65.10" y2="327.90" stroke="#111" stroke-width="1.0"/>
<line x1="97.15" y1="297.60" x2="97.15" y2="295.60" stroke="#111" stroke-width="1.1"/>
<line x1="93.65" y1="295.60" x2="100.65" y2="295.60" stroke="#111" stroke-width="1.1"/>
<rect x="91.20" y="297.60" width="11.90" height="27.90" fill="#000"/>
<line x1="97.15" y1="325.50" x2="97.15" y2="327.90" stroke="#111" stroke-width="1.0"/>
<line x1="113.45" y1="300.60" x2="113.45" y2="300.20" stroke="#111" stroke-width="1.1"/>
<line x1="109.95" y1="300.20" x2="116.95" y2="300.20" stroke="#111" stroke-width="1.1"/>
<rect x="108.10" y="301.20" width="10.70" height="24.30" fill="#686868" stroke="#111" stroke-width="1.2"/>
<line x1="113.45" y1="325.50" x2="113.45" y2="327.90" stroke="#111" stroke-width="1.0"/>
<line x1="129.80" y1="299.20" x2="129.80" y2="298.30" stroke="#111" stroke-width="1.1"/>
<line x1="126.30" y1="298.30" x2="133.30" y2="298.30" stroke="#111" stroke-width="1.1"/>
<rect x="124.40" y="299.80" width="10.80" height="25.70" fill="white" stroke="#111" stroke-width="1.2"/>
<line x1="129.80" y1="325.50" x2="129.80" y2="327.90" stroke="#111" stroke-width="1.0"/>
<line x1="81.00" y1="325.50" x2="81.00" y2="327.90" stroke="#111" stroke-width="1.0"/>
<text x="33.20" y="336.30" font-size="6.4" text-anchor="middle" fill="#1a1a1a" stroke="#1a1a1a" stroke-width="0.3">3</text>
<text x="48.70" y="336.30" font-size="6.4" text-anchor="middle" fill="#1a1a1a" stroke="#1a1a1a" stroke-width="0.3">4</text>
<text x="65.40" y="336.30" font-size="6.4" text-anchor="middle" fill="#1a1a1a" stroke="#1a1a1a" stroke-width="0.3">5</text>
<text x="97.15" y="336.30" font-size="6.4" text-anchor="middle" fill="#1a1a1a" stroke="#1a1a1a" stroke-width="0.3">3</text>
<text x="113.45" y="336.30" font-size="6.4" text-anchor="middle" fill="#1a1a1a" stroke="#1a1a1a" stroke-width="0.3">4</text>
<text x="129.80" y="336.30" font-size="6.4" text-anchor="middle" fill="#1a1a1a" stroke="#1a1a1a" stroke-width="0.3">5</text>
<text x="133.10" y="336.30" font-size="6.05" text-anchor="start" fill="#1a1a1a" stroke="#1a1a1a" stroke-width="0.3">μM BGB324</text>
<line x1="47.00" y1="241.80" x2="113.30" y2="241.80" stroke="#111" stroke-width="1.1"/>
<circle cx="78.50" cy="236.70" r="1.3" fill="#111"/>
<line x1="65.00" y1="251.70" x2="131.60" y2="251.70" stroke="#111" stroke-width="1.1"/>
<circle cx="97.20" cy="247.30" r="1.3" fill="#111"/>
<line x1="28.90" y1="340.30" x2="67.80" y2="340.30" stroke="#111" stroke-width="1.0"/>
<line x1="94.60" y1="340.30" x2="133.10" y2="340.30" stroke="#111" stroke-width="1.0"/>
<text x="48.50" y="351.60" font-size="6.6" text-anchor="middle" fill="#1a1a1a" stroke="#1a1a1a" stroke-width="0.3">co</text>
<text x="113.80" y="351.60" font-size="6.3" text-anchor="middle" fill="#1a1a1a" stroke="#1a1a1a" stroke-width="0.3">shPuma</text>
<text x="7.10" y="286.30" font-size="6.5" text-anchor="middle" fill="#1a1a1a" stroke="#1a1a1a" stroke-width="0.3" transform="rotate(-90 7.10 286.30)">Annexin V<tspan font-size="4.55" dy="-2.2">+</tspan><tspan dy="2.2"> cells (%)</tspan></text>
<text x="174.20" y="239.40" font-size="11" text-anchor="start" font-weight="bold" fill="#000" stroke="#000" stroke-width="0.3">H</text>
<line x1="197.50" y1="248.70" x2="197.50" y2="325.50" stroke="#111" stroke-width="1.3"/>
<line x1="195.10" y1="324.90" x2="197.50" y2="324.90" stroke="#111" stroke-width="1.0"/>
<text x="194.50" y="326.90" font-size="5.6" text-anchor="end" fill="#1a1a1a" stroke="#1a1a1a" stroke-width="0.3">0</text>
<line x1="195.10" y1="314.01" x2="197.50" y2="314.01" stroke="#111" stroke-width="1.0"/>
<text x="194.50" y="316.01" font-size="5.6" text-anchor="end" fill="#1a1a1a" stroke="#1a1a1a" stroke-width="0.3">5</text>
<line x1="195.10" y1="303.13" x2="197.50" y2="303.13" stroke="#111" stroke-width="1.0"/>
<text x="194.50" y="305.13" font-size="5.6" text-anchor="end" fill="#1a1a1a" stroke="#1a1a1a" stroke-width="0.3">10</text>
<line x1="195.10" y1="292.25" x2="197.50" y2="292.25" stroke="#111" stroke-width="1.0"/>
<text x="194.50" y="294.25" font-size="5.6" text-anchor="end" fill="#1a1a1a" stroke="#1a1a1a" stroke-width="0.3">15</text>
<line x1="195.10" y1="281.36" x2="197.50" y2="281.36" stroke="#111" stroke-width="1.0"/>
<text x="194.50" y="283.36" font-size="5.6" text-anchor="end" fill="#1a1a1a" stroke="#1a1a1a" stroke-width="0.3">20</text>
<line x1="195.10" y1="270.47" x2="197.50" y2="270.47" stroke="#111" stroke-width="1.0"/>
<text x="194.50" y="272.47" font-size="5.6" text-anchor="end" fill="#1a1a1a" stroke="#1a1a1a" stroke-width="0.3">25</text>
<line x1="195.10" y1="259.59" x2="197.50" y2="259.59" stroke="#111" stroke-width="1.0"/>
<text x="194.50" y="261.59" font-size="5.6" text-anchor="end" fill="#1a1a1a" stroke="#1a1a1a" stroke-width="0.3">30</text>
<line x1="195.10" y1="248.70" x2="197.50" y2="248.70" stroke="#111" stroke-width="1.0"/>
<text x="194.50" y="250.70" font-size="5.6" text-anchor="end" fill="#1a1a1a" stroke="#1a1a1a" stroke-width="0.3">35</text>
<line x1="196.90" y1="324.90" x2="309.80" y2="324.90" stroke="#111" stroke-width="1.3"/>
<line x1="205.25" y1="282.80" x2="205.25" y2="280.90" stroke="#111" stroke-width="1.1"/>
<line x1="201.75" y1="280.90" x2="208.75" y2="280.90" stroke="#111" stroke-width="1.1"/>
<rect x="199.30" y="282.80" width="11.90" height="42.10" fill="#000"/>
<line x1="205.25" y1="324.90" x2="205.25" y2="327.30" stroke="#111" stroke-width="1.0"/>
<line x1="221.95" y1="274.20" x2="221.95" y2="272.20" stroke="#111" stroke-width="1.1"/>
<line x1="218.45" y1="272.20" x2="225.45" y2="272.20" stroke="#111" stroke-width="1.1"/>
<rect x="216.90" y="274.80" width="10.10" height="50.10" fill="#686868" stroke="#111" stroke-width="1.2"/>
<line x1="221.95" y1="324.90" x2="221.95" y2="327.30" stroke="#111" stroke-width="1.0"/>
<line x1="238.20" y1="267.40" x2="238.20" y2="262.60" stroke="#111" stroke-width="1.1"/>
<line x1="234.70" y1="262.60" x2="241.70" y2="262.60" stroke="#111" stroke-width="1.1"/>
<rect x="233.10" y="268.00" width="10.20" height="56.90" fill="white" stroke="#111" stroke-width="1.2"/>
<line x1="238.20" y1="324.90" x2="238.20" y2="327.30" stroke="#111" stroke-width="1.0"/>
<line x1="270.85" y1="294.50" x2="270.85" y2="289.30" stroke="#111" stroke-width="1.1"/>
<line x1="267.35" y1="289.30" x2="274.35" y2="289.30" stroke="#111" stroke-width="1.1"/>
<rect x="264.80" y="294.50" width="12.10" height="30.40" fill="#000"/>
<line x1="270.85" y1="324.90" x2="270.85" y2="327.30" stroke="#111" stroke-width="1.0"/>
<line x1="286.75" y1="294.90" x2="286.75" y2="294.50" stroke="#111" stroke-width="1.1"/>
<line x1="283.25" y1="294.50" x2="290.25" y2="294.50" stroke="#111" stroke-width="1.1"/>
<rect x="281.60" y="295.50" width="10.30" height="29.40" fill="#686868" stroke="#111" stroke-width="1.2"/>
<line x1="286.75" y1="324.90" x2="286.75" y2="327.30" stroke="#111" stroke-width="1.0"/>
<line x1="302.90" y1="294.90" x2="302.90" y2="294.50" stroke="#111" stroke-width="1.1"/>
<line x1="299.40" y1="294.50" x2="306.40" y2="294.50" stroke="#111" stroke-width="1.1"/>
<rect x="297.60" y="295.50" width="10.60" height="29.40" fill="white" stroke="#111" stroke-width="1.2"/>
<line x1="302.90" y1="324.90" x2="302.90" y2="327.30" stroke="#111" stroke-width="1.0"/>
<line x1="254.35" y1="324.90" x2="254.35" y2="327.30" stroke="#111" stroke-width="1.0"/>
<text x="205.95" y="335.40" font-size="6.4" text-anchor="middle" fill="#1a1a1a" stroke="#1a1a1a" stroke-width="0.3">3</text>
<text x="221.95" y="335.40" font-size="6.4" text-anchor="middle" fill="#1a1a1a" stroke="#1a1a1a" stroke-width="0.3">4</text>
<text x="238.20" y="335.40" font-size="6.4" text-anchor="middle" fill="#1a1a1a" stroke="#1a1a1a" stroke-width="0.3">5</text>
<text x="270.85" y="335.40" font-size="6.4" text-anchor="middle" fill="#1a1a1a" stroke="#1a1a1a" stroke-width="0.3">3</text>
<text x="286.75" y="335.40" font-size="6.4" text-anchor="middle" fill="#1a1a1a" stroke="#1a1a1a" stroke-width="0.3">4</text>
<text x="302.90" y="335.40" font-size="6.4" text-anchor="middle" fill="#1a1a1a" stroke="#1a1a1a" stroke-width="0.3">5</text>
<text x="306.30" y="335.40" font-size="6.5" text-anchor="start" fill="#1a1a1a" stroke="#1a1a1a" stroke-width="0.3">μM BGB324</text>
<line x1="219.60" y1="243.50" x2="286.90" y2="243.50" stroke="#111" stroke-width="1.1"/>
<circle cx="251.90" cy="238.30" r="1.3" fill="#111"/>
<line x1="238.50" y1="253.30" x2="305.20" y2="253.30" stroke="#111" stroke-width="1.1"/>
<circle cx="270.60" cy="248.80" r="1.3" fill="#111"/>
<line x1="202.40" y1="339.20" x2="240.90" y2="339.20" stroke="#111" stroke-width="1.0"/>
<line x1="265.20" y1="339.20" x2="306.00" y2="339.20" stroke="#111" stroke-width="1.0"/>
<text x="221.60" y="351.30" font-size="6.6" text-anchor="middle" fill="#1a1a1a" stroke="#1a1a1a" stroke-width="0.3">co</text>
<text x="286.90" y="351.30" font-size="6.3" text-anchor="middle" fill="#1a1a1a" stroke="#1a1a1a" stroke-width="0.3">Bcl-2 overexpression</text>
<text x="181.80" y="284.60" font-size="6.35" text-anchor="middle" fill="#1a1a1a" stroke="#1a1a1a" stroke-width="0.3" transform="rotate(-90 181.80 284.60)">Annexin V<tspan font-size="4.44" dy="-2.2">+</tspan><tspan dy="2.2"> cells (%)</tspan></text>
<text x="359.20" y="239.10" font-size="11" text-anchor="start" font-weight="bold" fill="#000" stroke="#000" stroke-width="0.3">I</text>
<line x1="391.30" y1="242.60" x2="391.30" y2="324.80" stroke="#111" stroke-width="1.3"/>
<line x1="388.70" y1="324.20" x2="391.30" y2="324.20" stroke="#111" stroke-width="1.0"/>
<text x="388.10" y="326.20" font-size="5.8" text-anchor="end" fill="#1a1a1a" stroke="#1a1a1a" stroke-width="0.3">0</text>
<line x1="388.70" y1="303.80" x2="391.30" y2="303.80" stroke="#111" stroke-width="1.0"/>
<text x="388.10" y="305.80" font-size="5.8" text-anchor="end" fill="#1a1a1a" stroke="#1a1a1a" stroke-width="0.3">2000</text>
<line x1="388.70" y1="283.40" x2="391.30" y2="283.40" stroke="#111" stroke-width="1.0"/>
<text x="388.10" y="285.40" font-size="5.8" text-anchor="end" fill="#1a1a1a" stroke="#1a1a1a" stroke-width="0.3">4000</text>
<line x1="388.70" y1="263.00" x2="391.30" y2="263.00" stroke="#111" stroke-width="1.0"/>
<text x="388.10" y="265.00" font-size="5.8" text-anchor="end" fill="#1a1a1a" stroke="#1a1a1a" stroke-width="0.3">6000</text>
<line x1="388.70" y1="242.60" x2="391.30" y2="242.60" stroke="#111" stroke-width="1.0"/>
<text x="388.10" y="244.60" font-size="5.8" text-anchor="end" fill="#1a1a1a" stroke="#1a1a1a" stroke-width="0.3">8000</text>
<line x1="390.70" y1="324.20" x2="513.60" y2="324.20" stroke="#111" stroke-width="1.3"/>
<line x1="391.30" y1="324.20" x2="391.30" y2="326.70" stroke="#111" stroke-width="1.0"/>
<text x="391.30" y="333.40" font-size="5.9" text-anchor="middle" fill="#1a1a1a" stroke="#1a1a1a" stroke-width="0.3">0</text>
<line x1="415.74" y1="324.20" x2="415.74" y2="326.70" stroke="#111" stroke-width="1.0"/>
<text x="415.74" y="333.40" font-size="5.9" text-anchor="middle" fill="#1a1a1a" stroke="#1a1a1a" stroke-width="0.3">20</text>
<line x1="440.18" y1="324.20" x2="440.18" y2="326.70" stroke="#111" stroke-width="1.0"/>
<text x="440.18" y="333.40" font-size="5.9" text-anchor="middle" fill="#1a1a1a" stroke="#1a1a1a" stroke-width="0.3">40</text>
<line x1="464.62" y1="324.20" x2="464.62" y2="326.70" stroke="#111" stroke-width="1.0"/>
<text x="464.62" y="333.40" font-size="5.9" text-anchor="middle" fill="#1a1a1a" stroke="#1a1a1a" stroke-width="0.3">60</text>
<line x1="489.06" y1="324.20" x2="489.06" y2="326.70" stroke="#111" stroke-width="1.0"/>
<text x="489.06" y="333.40" font-size="5.9" text-anchor="middle" fill="#1a1a1a" stroke="#1a1a1a" stroke-width="0.3">80</text>
<line x1="513.50" y1="324.20" x2="513.50" y2="326.70" stroke="#111" stroke-width="1.0"/>
<text x="513.50" y="333.40" font-size="5.9" text-anchor="middle" fill="#1a1a1a" stroke="#1a1a1a" stroke-width="0.3">100</text>
<circle cx="391.30" cy="260.70" r="1.55" fill="#111"/>
<circle cx="391.30" cy="264.70" r="1.55" fill="#111"/>
<circle cx="391.30" cy="268.70" r="1.55" fill="#111"/>
<circle cx="391.30" cy="271.00" r="1.55" fill="#111"/>
<circle cx="391.30" cy="285.10" r="1.55" fill="#111"/>
<circle cx="432.00" cy="304.20" r="1.55" fill="#111"/>
<circle cx="444.60" cy="306.10" r="1.55" fill="#111"/>
<circle cx="451.90" cy="314.50" r="1.55" fill="#111"/>
<circle cx="486.40" cy="310.20" r="1.55" fill="#111"/>
<circle cx="491.10" cy="321.80" r="1.55" fill="#111"/>
<line x1="391.30" y1="273.20" x2="489.00" y2="324.20" stroke="#111" stroke-width="1.5"/>
<text x="453.0" y="345.0" font-size="6.6" text-anchor="middle" fill="#1a1a1a" stroke="#1a1a1a" stroke-width="0.3">Axl<tspan font-size="4.6" dy="-2.2">+</tspan><tspan dy="2.2"> MNC (%)</tspan></text>
<text x="366.20" y="284.00" font-size="6.8" text-anchor="middle" transform="rotate(-90 366.20 284.00)" fill="#1a1a1a" stroke="#1a1a1a" stroke-width="0.3">IC50 (nM)</text>
</g>
</svg>
</body></html>
